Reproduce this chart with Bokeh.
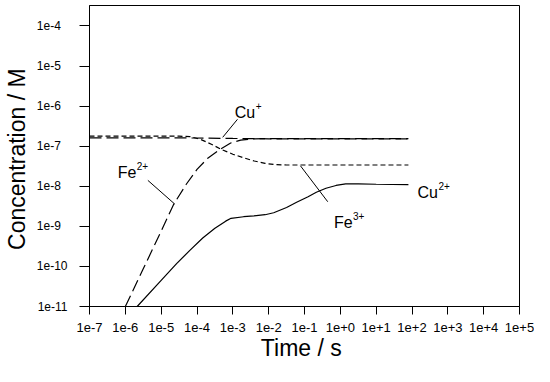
import numpy as np
from bokeh.plotting import figure
from bokeh.models import FixedTicker, CustomJSTickFormatter, Range1d, ColumnDataSource
from bokeh.core.properties import value
from bokeh.embed import file_html
from bokeh.resources import INLINE

# ---- data (time in s, concentration in M) ----
cu1_time = [1e-7, 1e-6, 1e-5, 1e-4, 1e-3, 1e-2, 1e-1, 1e0, 1e1, 8e1]
cu1_conc = [1.62e-7, 1.62e-7, 1.61e-7, 1.60e-7, 1.56e-7, 1.53e-7, 1.52e-7, 1.52e-7, 1.52e-7, 1.52e-7]

fe3_logt = [-7.0, -6.0, -5.0, -4.5, -4.2, -3.9, -3.6, -3.3, -3.0, -2.7, -2.4, -2.1, -1.8, -1.5, -1.0, 0.0, 1.0, 1.9]
fe3_logc = [-6.75, -6.75, -6.75, -6.75, -6.76, -6.83, -6.95, -7.09, -7.20, -7.29, -7.37, -7.43, -7.46, -7.47, -7.47, -7.47, -7.47, -7.47]

fe2_logt = [-6.0, -5.5, -5.0, -4.65, -4.3, -4.0, -3.7, -3.34, -3.06, -2.78, -2.5, -2.0, -1.0, 0.0, 1.0, 1.9]
fe2_logc = [-11.0, -10.06, -9.12, -8.45, -7.95, -7.58, -7.30, -7.07, -6.92, -6.85, -6.82, -6.81, -6.81, -6.81, -6.81, -6.81]

cu2_logt = [-5.67, -5.0, -4.57, -4.2, -3.84, -3.5, -3.2, -3.05, -2.7, -2.41, -2.1, -1.86, -1.5, -1.22, -0.9, -0.67, -0.4, -0.12, 0.15, 0.5, 1.0, 1.9]
cu2_logc = [-11.0, -10.35, -9.93, -9.60, -9.29, -9.05, -8.87, -8.80, -8.76, -8.74, -8.71, -8.66, -8.53, -8.40, -8.26, -8.15, -8.05, -7.98, -7.94, -7.94, -7.95, -7.96]

x_ticks = [1e-7, 1e-6, 1e-5, 1e-4, 1e-3, 1e-2, 1e-1, 1e0, 1e1, 1e2, 1e3, 1e4, 1e5]
x_tick_labels = ["1e-7", "1e-6", "1e-5", "1e-4", "1e-3", "1e-2", "1e-1", "1e+0",
                 "1e+1", "1e+2", "1e+3", "1e+4", "1e+5"]
y_ticks = [1e-11, 1e-10, 1e-9, 1e-8, 1e-7, 1e-6, 1e-5, 1e-4]
y_tick_labels = ["1e-11", "1e-10", "1e-9", "1e-8", "1e-7", "1e-6", "1e-5", "1e-4"]

FONT = "Liberation Sans"

p = figure(width=534, height=366, x_axis_type="log", y_axis_type="log",
           x_range=Range1d(1e-7, 1e5), y_range=Range1d(1e-11, 10 ** -3.49),
           output_backend="svg", toolbar_location=None,
           min_border_left=82, min_border_right=15, min_border_top=5, min_border_bottom=60)
p.background_fill_color = "white"
p.border_fill_color = "white"
p.outline_line_color = "black"
p.outline_line_width = 1
p.xgrid.visible = False
p.ygrid.visible = False

# label lookup; pad (with figure spaces) so that right-aligned y labels line up on the left
fmt_code = """
let best = 0, bd = 1e9;
for (let i = 0; i < t.length; i++) {
  const d = Math.abs(Math.log10(t[i]) - Math.log10(tick));
  if (d < bd) { bd = d; best = i; }
}
let s = l[best];
if (pad) { while (s.length < 5) s += '\\u2007'; }
return s;
"""
p.xaxis.ticker = FixedTicker(ticks=x_ticks)
p.xaxis.formatter = CustomJSTickFormatter(args=dict(t=x_ticks, l=x_tick_labels, pad=False), code=fmt_code)
p.yaxis.ticker = FixedTicker(ticks=y_ticks)
p.yaxis.formatter = CustomJSTickFormatter(args=dict(t=y_ticks, l=y_tick_labels, pad=True), code=fmt_code)

for ax in (p.xaxis, p.yaxis):
    ax.axis_line_color = "black"
    ax.major_tick_line_color = "black"
    ax.minor_tick_line_color = None
    ax.major_tick_in = 0
    ax.major_label_text_font = FONT
    ax.major_label_text_color = "black"
    ax.axis_label_text_font = FONT
    ax.axis_label_text_font_style = "normal"
    ax.axis_label_text_color = "black"

p.xaxis.major_tick_out = 8
p.yaxis.major_tick_out = 10
p.xaxis.major_label_text_font_size = "13px"
p.yaxis.major_label_text_font_size = "12px"
p.xaxis.major_label_standoff = 8
p.yaxis.major_label_standoff = 12
p.xaxis.axis_label = "Time  / s"
p.yaxis.axis_label = "Concentration  / M"
p.xaxis.axis_label_text_font_size = "23px"
p.yaxis.axis_label_text_font_size = "23px"
p.xaxis.axis_label_standoff = 0
p.yaxis.axis_label_standoff = 4

# ---- curves ----
p.line(cu1_time, cu1_conc, line_color="black", line_width=1.2, line_dash="12 5")
p.line([10 ** v for v in fe3_logt], [10 ** v for v in fe3_logc], line_color="black", line_width=1.2, line_dash="5 3")
p.line([10 ** v for v in fe2_logt], [10 ** v for v in fe2_logc], line_color="black", line_width=1.2, line_dash="12 5")
p.line([10 ** v for v in cu2_logt], [10 ** v for v in cu2_logc], line_color="black", line_width=1.2)

# ---- annotations (log10 data coordinates) ----
lead_x0 = [-2.871, -5.371, -1.113]
lead_y0 = [-6.330, -7.853, -7.490]
lead_x1 = [-3.283, -4.621, -0.352]
lead_y1 = [-6.779, -8.444, -8.386]
p.segment([10 ** v for v in lead_x0], [10 ** v for v in lead_y0],
          [10 ** v for v in lead_x1], [10 ** v for v in lead_y1],
          line_color="black", line_width=1)

lab_x = [-2.95, -6.21, -0.18, 2.15]
lab_y = [-6.16, -7.66, -8.91, -8.165]
lab_main = ["Cu", "Fe", "Fe", "Cu"]
lab_sup = ["+", "2+", "3+", "2+"]
lab_w = [21, 19, 19, 21]
src = ColumnDataSource(dict(x=[10 ** v for v in lab_x], y=[10 ** v for v in lab_y],
                            main=lab_main, sup=lab_sup, w=lab_w))
p.text(x="x", y="y", text="main", source=src, text_font=value(FONT), text_font_size="16px",
       text_color="black", text_baseline="alphabetic", text_align="left")
p.text(x="x", y="y", text="sup", source=src, x_offset="w", y_offset=-7, text_font=value(FONT),
       text_font_size="10px", text_color="black", text_baseline="alphabetic", text_align="left")

open("out.html", "w").write(file_html(p, INLINE))
